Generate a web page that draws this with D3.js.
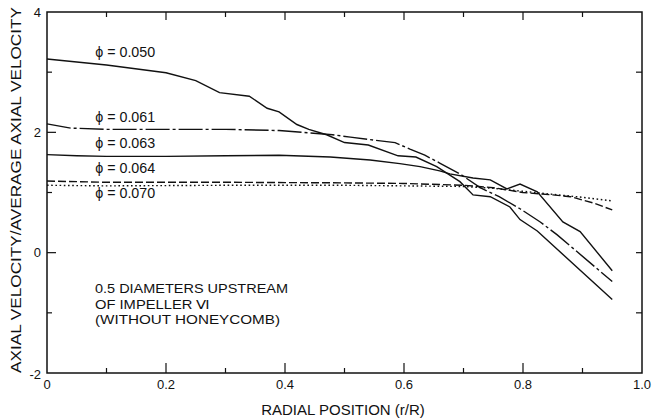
<!DOCTYPE html>
<html><head><meta charset="utf-8">
<script src="https://cdn.jsdelivr.net/npm/d3@7"></script>
<style>body{margin:0;background:#fff}svg text{font-family:"Liberation Sans",Arial,sans-serif;fill:#111}</style>
</head><body><svg id="c" width="652" height="420"></svg>
<script>
const xTicks = [0, 0.2, 0.4, 0.6, 0.8, 1.0];
const xTickLabels = ["0", "0.2", "0.4", "0.6", "0.8", "1.0"];
const yTicks = [-2, 0, 2, 4];
const yTickLabels = ["-2", "0", "2", "4"];

const r050 = [0, 0.1, 0.2, 0.25, 0.29, 0.34, 0.37, 0.39, 0.42, 0.44, 0.47, 0.5, 0.54, 0.59, 0.62, 0.655, 0.694, 0.716, 0.745, 0.778, 0.795, 0.824, 0.95];
const v050 = [3.22, 3.12, 2.99, 2.86, 2.66, 2.6, 2.4, 2.34, 2.13, 2.05, 1.96, 1.83, 1.79, 1.61, 1.59, 1.43, 1.18, 0.96, 0.93, 0.76, 0.55, 0.36, -0.78];

const r061 = [0, 0.04, 0.1, 0.2, 0.3, 0.39, 0.43, 0.48, 0.51, 0.55, 0.585, 0.61, 0.635, 0.66, 0.694, 0.728, 0.76, 0.795, 0.829, 0.857, 0.95];
const v061 = [2.14, 2.07, 2.05, 2.05, 2.05, 2.03, 2.0, 1.96, 1.92, 1.87, 1.83, 1.72, 1.62, 1.49, 1.31, 1.08, 0.93, 0.73, 0.51, 0.3, -0.48];

const r063 = [0, 0.05, 0.1, 0.2, 0.3, 0.39, 0.476, 0.543, 0.593, 0.627, 0.66, 0.677, 0.716, 0.745, 0.773, 0.795, 0.824, 0.867, 0.896, 0.95];
const v063 = [1.63, 1.61, 1.6, 1.6, 1.61, 1.62, 1.59, 1.54, 1.48, 1.43, 1.36, 1.31, 1.24, 1.21, 1.06, 1.14, 1.01, 0.51, 0.35, -0.3];

const r064 = [0, 0.1, 0.3, 0.5, 0.6, 0.7, 0.75, 0.8, 0.85, 0.88, 0.92, 0.95];
const v064 = [1.19, 1.17, 1.17, 1.16, 1.15, 1.12, 1.08, 1.0, 0.96, 0.93, 0.82, 0.71];

const r070 = [0, 0.1, 0.3, 0.5, 0.7, 0.75, 0.8, 0.85, 0.9, 0.95];
const v070 = [1.12, 1.11, 1.12, 1.12, 1.1, 1.07, 1.02, 0.97, 0.92, 0.86];

const seriesNames = ["\u03D5 = 0.050", "\u03D5 = 0.061", "\u03D5 = 0.063", "\u03D5 = 0.064", "\u03D5 = 0.070"];
const labelAt = [[0.081, 3.25], [0.081, 2.17], [0.081, 1.74], [0.081, 1.32], [0.081, 0.91]];
const noteLines = ["0.5 DIAMETERS UPSTREAM", "OF IMPELLER \u2165", "(WITHOUT HONEYCOMB)"];

const svg = d3.select("#c");
const L = 47, R = 642, T = 12, B = 373;
const x = d3.scaleLinear().domain([0, 1]).range([L, R]);
const y = d3.scaleLinear().domain([-2, 4]).range([B, T]);

// frame
svg.append("rect").attr("x", L).attr("y", T).attr("width", R - L).attr("height", B - T)
  .attr("fill", "none").attr("stroke", "#111").attr("stroke-width", 1.5);

// ticks
const xt = d3.range(0, 1.0001, 0.1);
const yt = d3.range(-2, 4.0001, 1);
const g = svg.append("g").attr("stroke", "#111").attr("stroke-width", 1.2);
xt.forEach((t, i) => {
  if (i === 0 || i === 10) return;
  const major = i % 2 === 0;
  g.append("line").attr("x1", x(t)).attr("x2", x(t)).attr("y1", B).attr("y2", B - (major ? 10 : 5));
  g.append("line").attr("x1", x(t)).attr("x2", x(t)).attr("y1", T).attr("y2", T + (major ? 8 : 5));
});
yt.forEach((t, i) => {
  if (i === 0 || i === 6) return;
  const major = i % 2 === 0;
  g.append("line").attr("y1", y(t)).attr("y2", y(t)).attr("x1", L).attr("x2", L + (major ? 9 : 5));
  g.append("line").attr("y1", y(t)).attr("y2", y(t)).attr("x1", R).attr("x2", R - 6);
});

// tick labels
xTicks.forEach((t, i) => {
  svg.append("text").attr("x", x(t)).attr("y", B + 16).attr("text-anchor", "middle")
    .attr("font-size", 13).text(xTickLabels[i]);
});
yTicks.forEach((t, i) => {
  svg.append("text").attr("x", L - 6).attr("y", y(t) + (t === -2 ? 6 : 4.5)).attr("text-anchor", "end")
    .attr("font-size", 13).text(yTickLabels[i]);
});

// axis titles
svg.append("text").attr("x", 343).attr("y", 415).attr("text-anchor", "middle")
  .attr("font-size", 15).text("RADIAL POSITION (r/R)");
svg.append("text").attr("transform", "translate(21,190) rotate(-90)").attr("text-anchor", "middle")
  .attr("font-size", 15.5).attr("textLength", 366).attr("lengthAdjust", "spacingAndGlyphs")
  .text("AXIAL VELOCITY/AVERAGE AXIAL VELOCITY");

// curves
const line = d3.line().x(d => x(d[0])).y(d => y(d[1])).curve(d3.curveLinear);
const sets = [
  [r050, v050, null],
  [r061, v061, "24,3,3,3"],
  [r063, v063, null],
  [r064, v064, "8,3"],
  [r070, v070, "1.6,2.6"]
];
sets.forEach(([rs, vs, dash]) => {
  const p = svg.append("path").datum(rs.map((r, i) => [r, vs[i]]))
    .attr("d", line).attr("fill", "none").attr("stroke", "#111").attr("stroke-width", 1.4);
  if (dash) p.attr("stroke-dasharray", dash);
});

// series labels
seriesNames.forEach((s, i) => {
  svg.append("text").attr("x", x(labelAt[i][0])).attr("y", y(labelAt[i][1]))
    .attr("font-size", 14).attr("textLength", 60).attr("lengthAdjust", "spacingAndGlyphs").text(s);
});

// note
const noteW = [193, 115, 185];
noteLines.forEach((s, i) => {
  svg.append("text").attr("x", 95).attr("y", 293 + i * 15.5).attr("font-size", 13)
    .attr("textLength", noteW[i]).attr("lengthAdjust", "spacingAndGlyphs").text(s);
});
</script></body></html>
